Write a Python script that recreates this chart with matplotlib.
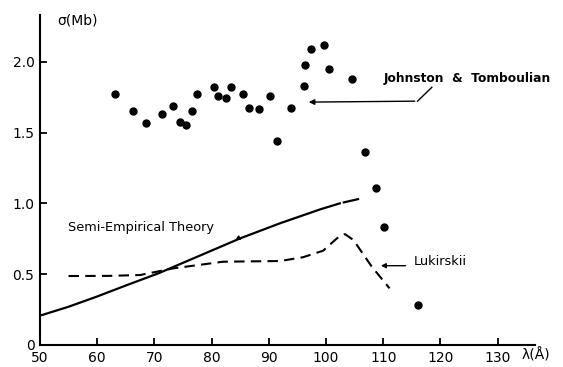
import matplotlib
matplotlib.use("Agg")
import matplotlib.pyplot as plt

# --- data ---
jt_x = [63.1, 66.3, 68.5, 71.3, 73.2, 74.5, 75.5, 76.5, 77.4, 80.4, 81.2, 82.5,
        83.4, 85.4, 86.6, 88.3, 90.2, 91.5, 93.8, 96.1, 96.4, 97.3, 99.6, 100.6,
        104.5, 106.8, 108.8, 110.1, 116.0]
jt_y = [1.77, 1.65, 1.565, 1.63, 1.69, 1.575, 1.55, 1.65, 1.775, 1.82, 1.755, 1.745,
        1.825, 1.77, 1.675, 1.67, 1.755, 1.44, 1.675, 1.83, 1.975, 2.09, 2.115, 1.95,
        1.88, 1.36, 1.11, 0.83, 0.285]

theory_x = [50, 55, 59.9, 65, 70.7, 78, 85, 92, 99, 102.4]
theory_y = [0.207, 0.27, 0.341, 0.42, 0.506, 0.632, 0.753, 0.86, 0.958, 1.0]
# short detached dash continuing the theory curve
theory_ext_x = [103.1, 105.6]
theory_ext_y = [1.007, 1.03]

luk_x = [55.0, 62, 67.5, 73.3, 82, 92, 96, 99.5, 101.9, 103.3, 104.8, 108, 111.1]
luk_y = [0.487, 0.488, 0.494, 0.541, 0.588, 0.593, 0.62, 0.666, 0.753, 0.783, 0.741, 0.553, 0.40]

xticks = [50, 60, 70, 80, 90, 100, 110, 120, 130]
yticks = [0, 0.5, 1.0, 1.5, 2.0]
ytick_labels = ["0", "0.5", "1.0", "1.5", "2.0"]

plt.rcParams['font.family'] = ['DejaVu Sans']

fig = plt.figure(figsize=(5.63, 3.67), dpi=100)
ax = fig.add_axes([0.071, 0.060, 0.879, 0.899])

ax.plot(jt_x, jt_y, 'o', color='black', markersize=5)
ax.plot(theory_x, theory_y, '-', color='black', lw=1.6)
ax.plot(theory_ext_x, theory_ext_y, '-', color='black', lw=1.6)
ax.plot(luk_x, luk_y, '--', color='black', lw=1.5, dashes=(5, 3))

ax.set_xlim(50, 136.5)
ax.set_ylim(0, 2.33)
ax.spines['top'].set_visible(False)
ax.spines['right'].set_visible(False)
for s in ['left', 'bottom']:
    ax.spines[s].set_linewidth(1.5)
ax.set_xticks(xticks)
ax.set_yticks(yticks)
ax.set_yticklabels(ytick_labels)
ax.tick_params(direction='in', length=5, width=1.3, labelsize=10, pad=4)

# axis labels written like the original hand lettering
ax.text(53.0, 2.29, "σ(Mb)", fontsize=10, ha='left', va='center', clip_on=False)
ax.text(134.2, -0.07, "λ(Å)", fontsize=10, ha='left', va='center', clip_on=False)

# Johnston & Tomboulian label with bent leader
ax.text(110.1, 1.885, "Johnston  &  Tomboulian", fontsize=8.8, fontweight='semibold',
        ha='left', va='center')
ax.plot([116.0, 118.5], [1.722, 1.82], color='black', lw=1.0)
ax.annotate("", xy=(96.5, 1.715), xytext=(116.0, 1.722),
            arrowprops=dict(arrowstyle='-|>', color='black', lw=1.0,
                            mutation_scale=8))

ax.text(54.9, 0.83, "Semi-Empirical Theory", fontsize=9.3, ha='left', va='center')
ax.annotate("", xy=(85.6, 0.73), xytext=(84.2, 0.772),
            arrowprops=dict(arrowstyle='-|>', color='black', lw=0.8,
                            mutation_scale=6))

ax.text(115.3, 0.59, "Lukirskii", fontsize=9.3, ha='left', va='center')
ax.annotate("", xy=(109.1, 0.56), xytext=(114.4, 0.56),
            arrowprops=dict(arrowstyle='-|>', color='black', lw=1.0,
                            mutation_scale=7))

fig.savefig("out.png", dpi=100)
